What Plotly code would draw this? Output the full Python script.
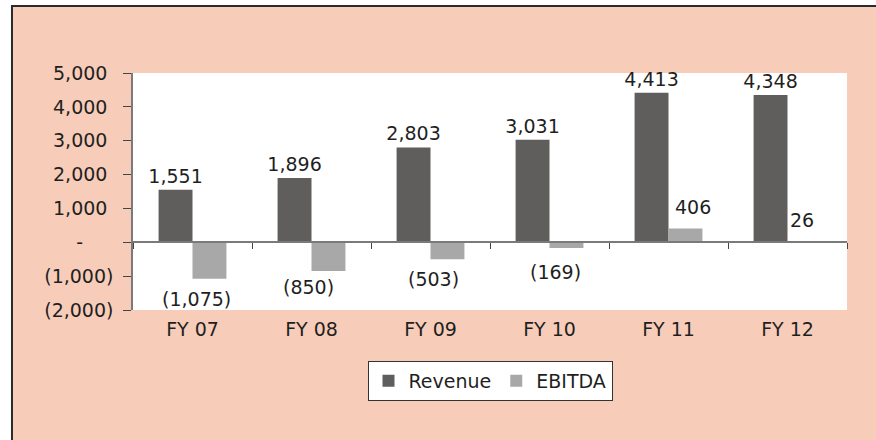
import plotly.graph_objects as go

categories = ["FY 07", "FY 08", "FY 09", "FY 10", "FY 11", "FY 12"]
revenue = [1551, 1896, 2803, 3031, 4413, 4348]
ebitda = [-1075, -850, -503, -169, 406, 26]
y_tickvals = [5000, 4000, 3000, 2000, 1000, 0, -1000, -2000]
y_ticktext = ["5,000\u00a0", "4,000\u00a0", "3,000\u00a0", "2,000\u00a0", "1,000\u00a0",
              "-\u2007\u2007\u00a0", "(1,000)", "(2,000)"]

# label offsets (pixels) for the EBITDA value labels
ebitda_xshift = [4, -3, 3, 6, 24, 14]
ebitda_yshift = [-20, -16, -20, -24, 22, 21]

FONT = "DejaVu Sans"
SALMON = "#F7CDB9"
TXT = "#1f1f1f"

def fmt(v):
    return f"({abs(v):,})" if v < 0 else f"{v:,}"

fig = go.Figure()
fig.add_trace(go.Bar(
    x=categories, y=revenue, name="Revenue",
    marker=dict(color="#5F5E5C", line=dict(width=0)),
    text=[fmt(v) for v in revenue], textposition="outside",
    textfont=dict(family=FONT, size=19, color=TXT),
    constraintext="none", cliponaxis=False,
))
fig.add_trace(go.Bar(
    x=categories, y=ebitda, name="EBITDA",
    marker=dict(color="#A8A8A8", line=dict(width=0)),
    cliponaxis=False,
))
# helper trace for the category axis drawn along the zero line
fig.add_trace(go.Scatter(
    x=categories, y=[None] * len(categories), xaxis="x2", yaxis="y",
    showlegend=False, hoverinfo="skip", mode="markers",
))

for c, v, xs, ys in zip(categories, ebitda, ebitda_xshift, ebitda_yshift):
    fig.add_annotation(x=c, y=v, xref="x", yref="y", text=fmt(v), showarrow=False,
                       xshift=xs, yshift=ys,
                       font=dict(family=FONT, size=19, color=TXT))

# margin / frame shapes
shapes = [
    dict(type="rect", xref="paper", yref="paper", x0=-0.25, x1=-0.1695, y0=-0.7, y1=1.4,
         fillcolor="white", line=dict(width=0), layer="below"),
    dict(type="rect", xref="paper", yref="paper", x0=-0.25, x1=1.2, y0=1.2827, y1=1.4,
         fillcolor="white", line=dict(width=0), layer="below"),
    dict(type="rect", xref="paper", yref="paper", x0=-0.1695, x1=1.06, y0=-0.6, y1=1.2827,
         fillcolor="rgba(0,0,0,0)", line=dict(width=2, color="#2a2a2a"), layer="above"),
]

fig.update_layout(
    width=876, height=440,
    margin=dict(l=133, r=29, t=73, b=130),
    paper_bgcolor=SALMON, plot_bgcolor="white",
    barmode="group", bargap=0.43, bargroupgap=0,
    font=dict(family=FONT, size=19, color=TXT),
    showlegend=True,
    legend=dict(orientation="h", x=0.5, xanchor="center", y=-0.215, yanchor="top",
                bgcolor="white", bordercolor="#333333", borderwidth=1,
                font=dict(family=FONT, size=19, color=TXT),
                itemwidth=30, tracegroupgap=0),
    xaxis=dict(type="category", range=[-0.5, 5.5], showline=False, ticks="",
               showgrid=False, zeroline=False, ticklabelstandoff=6,
               tickfont=dict(family=FONT, size=19, color=TXT)),
    xaxis2=dict(type="category", overlaying="x", anchor="free", position=2/7,
                range=[-0.5, 5.5], side="bottom",
                showline=True, linecolor="#7a7a7a", linewidth=1.5,
                ticks="outside", ticklen=6, tickcolor="#444444", tickwidth=1,
                tickson="boundaries", showticklabels=False, showgrid=False, zeroline=False),
    yaxis=dict(range=[-2000, 5000], tickvals=y_tickvals, ticktext=y_ticktext,
               showline=True, linecolor="#7a7a7a", linewidth=1.5,
               ticks="outside", ticklen=8, tickcolor="#444444",
               showgrid=False, zeroline=False, ticklabelstandoff=6,
               tickfont=dict(family=FONT, size=19, color=TXT)),
    shapes=shapes,
)

fig.write_html("out.html", config={"displayModeBar": False},
               post_script="document.body.style.margin='0';document.body.style.overflow='hidden';")
